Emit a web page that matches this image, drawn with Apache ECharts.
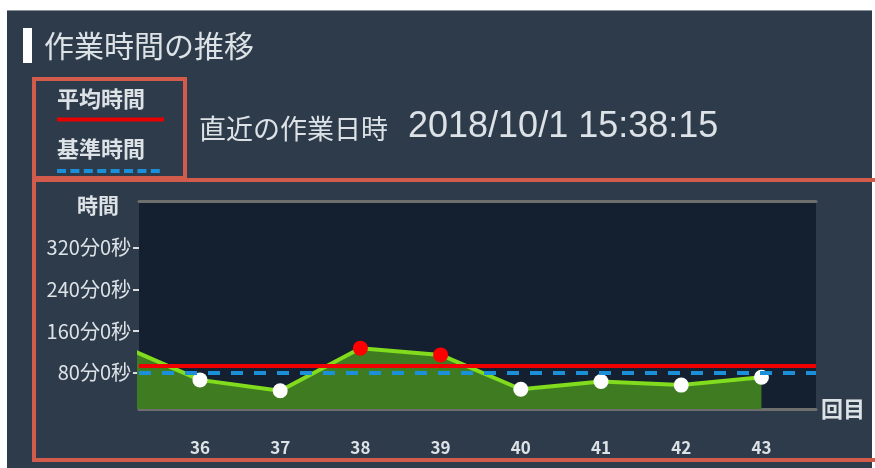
<!DOCTYPE html>
<html>
<head>
<meta charset="utf-8">
<script src="https://cdn.jsdelivr.net/npm/echarts@6/dist/echarts.min.js"></script>
<style>
  html, body { margin: 0; padding: 0; background: #ffffff; }
  .panel { position: absolute; left: 7px; top: 10px; width: 865px; height: 458px; background: #2e3b4b; border-top: 1px solid #8a9098; box-sizing: border-box; }
  .chart { position: absolute; left: 0; top: 0; width: 875px; height: 468px; }
</style>
</head>
<body>
<div class="panel"></div>
<div class="chart"></div>
<script>
// 回数 (35 はグラフ左端で切れている)
const rounds = [35, 36, 37, 38, 39, 40, 41, 42, 43]
// 作業時間（分）
const minutes = [133, 66, 45, 127, 114, 48, 63, 56, 71]
// 平均時間・基準時間（分）
const avgMinutes = 93
const baseMinutes = 80
// 目盛り
const yTicks = [80, 160, 240, 320]
const xTicks = [36, 37, 38, 39, 40, 41, 42, 43]
const lastUpdate = '2018/10/1 15:38:15'

;(function () {
  let myChart = echarts.init(document.querySelector('.chart'))
  const jp = '"Noto Sans CJK JP", sans-serif'
  const frameColor = '#d25b4c'
  const textColor = '#dde2e7'

  let option = {
    animation: false,
    backgroundColor: 'transparent',
    grid: {
      left: 139,
      right: 59,
      top: 201,
      bottom: 59,
      show: true,
      backgroundColor: '#142030',
      borderWidth: 0
    },
    xAxis: [
      {
        type: 'value',
        min: 35.24,
        max: 43.68,
        name: '回目',
        nameLocation: 'end',
        nameGap: 5,
        nameTextStyle: { color: textColor, fontSize: 22, fontWeight: 'bold', fontFamily: jp },
        axisLine: { lineStyle: { color: '#6e6e6e', width: 3 } },
        axisTick: { show: false },
        splitLine: { show: false },
        axisLabel: {
          customValues: xTicks,
          margin: 30,
          color: textColor,
          fontSize: 17,
          fontWeight: 'bold',
          fontFamily: jp
        }
      },
      {
        // 上側の枠線
        type: 'value',
        position: 'top',
        min: 35.24,
        max: 43.68,
        axisLine: { lineStyle: { color: '#6e6e6e', width: 3 } },
        axisTick: { show: false },
        axisLabel: { show: false },
        splitLine: { show: false }
      }
    ],
    yAxis: {
      type: 'value',
      min: 10,
      max: 410,
      name: '時間',
      nameLocation: 'end',
      nameGap: -4,
      nameTextStyle: {
        color: textColor, fontSize: 21, fontWeight: 'bold', fontFamily: jp,
        align: 'right', verticalAlign: 'middle', padding: [0, 20, 0, 0]
      },
      axisLine: { show: false },
      axisTick: {
        show: true,
        customValues: yTicks,
        length: 6,
        lineStyle: { color: '#dddddd', width: 2 }
      },
      splitLine: { show: false },
      axisLabel: {
        customValues: yTicks,
        margin: 8,
        color: textColor,
        fontSize: 20,
        fontFamily: jp,
        formatter: function (v) { return v + '分0秒' }
      }
    },
    series: [
      {
        name: '作業時間',
        type: 'line',
        data: rounds.map((r, i) => [r, minutes[i]]),
        symbol: 'circle',
        symbolSize: 15,
        lineStyle: { color: '#80dc1c', width: 4 },
        areaStyle: { color: '#3f7b21', opacity: 1 },
        itemStyle: {
          // 平均より大きい回は赤
          color: function (params) {
            return params.value[1] > avgMinutes ? '#ff0000' : '#ffffff'
          }
        },
        z: 2
      },
      {
        name: '平均時間',
        type: 'line',
        data: [],
        z: 5,
        markLine: {
          silent: true,
          symbol: ['none', 'none'],
          label: { show: false },
          lineStyle: { color: '#f00000', width: 4, type: 'solid' },
          data: [{ yAxis: avgMinutes }]
        }
      },
      {
        name: '基準時間',
        type: 'line',
        data: [],
        z: 6,
        markLine: {
          silent: true,
          symbol: ['none', 'none'],
          label: { show: false },
          lineStyle: { color: '#1b8fd8', width: 4, type: [12, 11] },
          data: [{ yAxis: baseMinutes }]
        }
      }
    ],
    graphic: [
      // タイトル
      { type: 'rect', shape: { x: 23, y: 28, width: 9, height: 35 }, style: { fill: '#ffffff' } },
      {
        type: 'text',
        style: { text: '作業時間の推移', x: 44, y: 46, fill: textColor, font: '30px ' + jp, verticalAlign: 'middle' }
      },
      // 凡例の枠
      {
        type: 'rect', shape: { x: 34, y: 79, width: 151, height: 99 },
        style: { fill: 'none', stroke: frameColor, lineWidth: 4 }
      },
      {
        type: 'text',
        style: { text: '平均時間', x: 57, y: 99, fill: textColor, font: 'bold 22px ' + jp, verticalAlign: 'middle' }
      },
      {
        type: 'line', shape: { x1: 57, y1: 119.5, x2: 164, y2: 119.5 },
        style: { stroke: '#e60000', lineWidth: 4 }
      },
      {
        type: 'text',
        style: { text: '基準時間', x: 57, y: 149, fill: textColor, font: 'bold 22px ' + jp, verticalAlign: 'middle' }
      },
      {
        type: 'line', shape: { x1: 57, y1: 171, x2: 164, y2: 171 },
        style: { stroke: '#1b8fd8', lineWidth: 4, lineDash: [9, 4.4] }
      },
      // 直近の作業日時
      {
        type: 'text',
        style: { text: '直近の作業日時', x: 199, y: 129, fill: textColor, font: '27px ' + jp, verticalAlign: 'middle' }
      },
      {
        type: 'text',
        style: { text: lastUpdate, x: 408, y: 127, fill: textColor, font: '36px "Liberation Sans", Arial, sans-serif', verticalAlign: 'middle' }
      },
      // グラフの枠
      {
        type: 'rect', shape: { x: 34, y: 180, width: 860, height: 280 },
        style: { fill: 'none', stroke: frameColor, lineWidth: 4 }
      }
    ]
  }

  myChart.setOption(option)

  window.addEventListener('resize', function () {
    myChart.resize()
  })
})();
</script>
</body>
</html>
